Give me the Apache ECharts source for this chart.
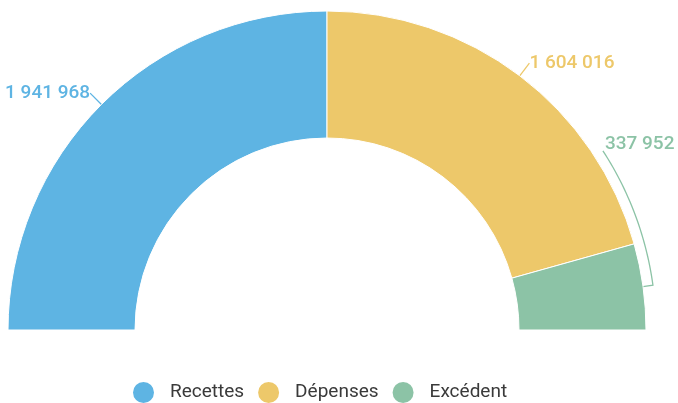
<!DOCTYPE html>
<html>
<head>
<meta charset="utf-8">
<script src="https://cdn.jsdelivr.net/npm/echarts@6/dist/echarts.min.js"></script>
<style>
  html, body { margin: 0; padding: 0; background: #fff; }
  #chart { width: 678px; height: 403px; }
</style>
</head>
<body>
<div id="chart"></div>
<script>
// donnees du budget
var categories = ['Recettes', 'Dépenses', 'Excédent'];
var values = [1941968, 1604016, 337952];
var colors = ['#5EB4E3', '#EDC86A', '#8CC3A6'];

var CX = 327, CY = 330, R_IN = 192, R_OUT = 319;

function fmt(v) {
  return String(v).replace(/\B(?=(\d{3})+(?!\d))/g, ' ');
}

var chart = echarts.init(document.getElementById('chart'));

var option = {
  animation: false,
  color: colors,
  legend: {
    data: categories,
    top: 375,
    left: 126,
    icon: 'circle',
    itemWidth: 23,
    itemHeight: 23,
    itemGap: 12,
    textStyle: {
      color: '#3a3a3a',
      fontSize: 19,
      fontFamily: 'Roboto',
      padding: [0, 0, 0, 10]
    }
  },
  series: [{
    type: 'pie',
    center: [CX, CY],
    radius: [R_IN, R_OUT],
    startAngle: 180,
    endAngle: 0,
    clockwise: true,
    itemStyle: {
      borderColor: '#fff',
      borderWidth: 1
    },
    label: {
      show: true,
      formatter: function (p) { return fmt(p.value); },
      fontSize: 19,
      fontWeight: 500,
      fontFamily: 'Roboto',
      color: 'inherit',
      overflow: 'none',
      distanceToLabelLine: 0
    },
    labelLine: {
      show: true,
      length: 16,
      length2: 0,
      lineStyle: { width: 1.3 }
    },
    labelLayout: function (params) {
      if (params.dataIndex !== 2) return {};
      // ligne en arc le long du bord pour l'excedent
      var p0 = params.labelLinePoints[0];
      var a0 = Math.atan2(CY - p0[1], p0[0] - CX);
      var r = 329;
      var pts = [p0, [CX + r * Math.cos(a0), CY - r * Math.sin(a0)]];
      var a1 = 33 * Math.PI / 180;
      var n = 30;
      for (var i = 1; i <= n; i++) {
        var a = a0 + (a1 - a0) * i / n;
        pts.push([CX + r * Math.cos(a), CY - r * Math.sin(a)]);
      }
      var end = pts[pts.length - 1];
      return {
        x: end[0] + 2,
        y: end[1] - 7,
        align: 'left',
        verticalAlign: 'middle',
        labelLinePoints: pts
      };
    },
    data: categories.map(function (c, i) {
      return { name: c, value: values[i] };
    })
  }]
};

chart.setOption(option);
</script>
</body>
</html>
